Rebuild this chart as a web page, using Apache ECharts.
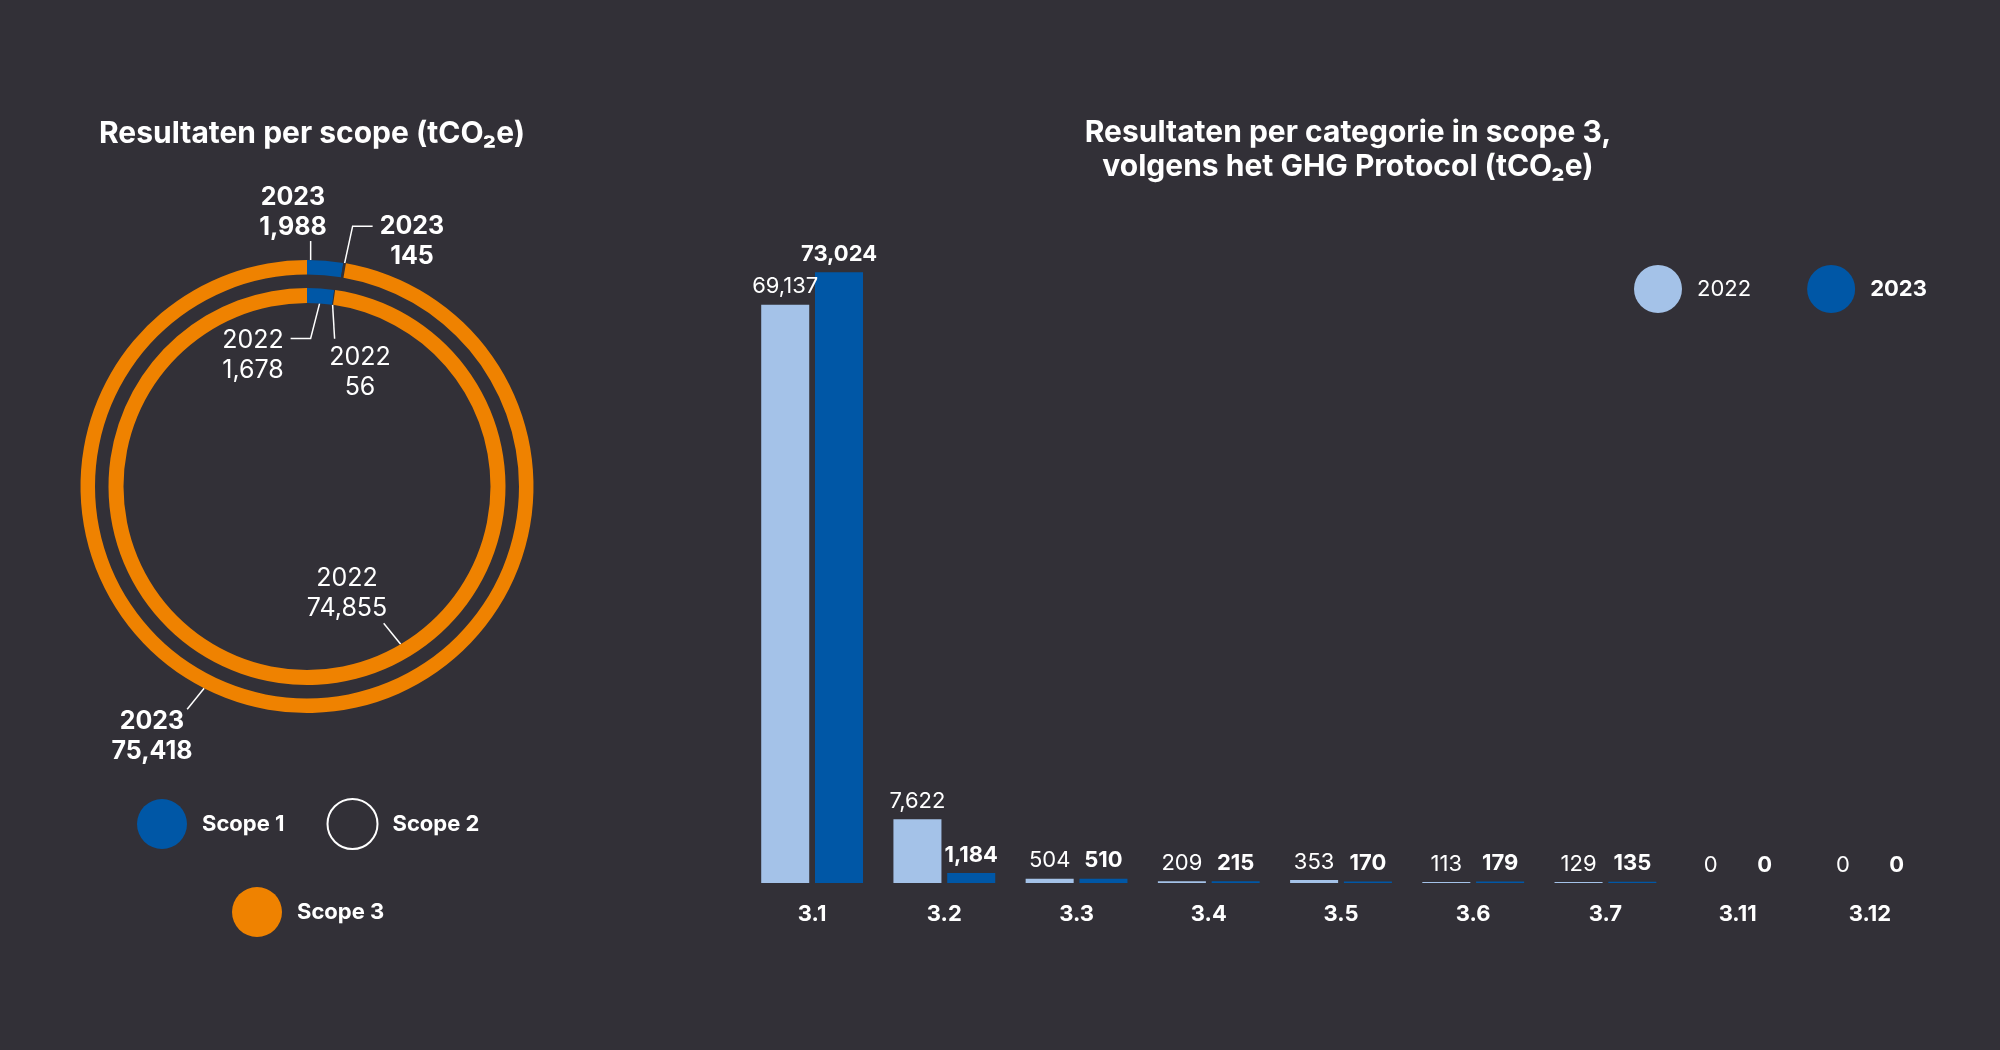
<!DOCTYPE html>
<html><head><meta charset="utf-8">
<script src="https://cdn.jsdelivr.net/npm/echarts@6/dist/echarts.min.js"></script>
<style>html,body{margin:0;padding:0;background:#323037}#c{width:2000px;height:1050px}</style>
</head><body><div id="c"></div>
<script>
// ---- data ----
const scopeNames = ['Scope 1', 'Scope 2', 'Scope 3'];
const scope2022 = [1678, 56, 74855];
const scope2023 = [1988, 145, 75418];
const categories = ['3.1', '3.2', '3.3', '3.4', '3.5', '3.6', '3.7', '3.11', '3.12'];
const cat2022 = [69137, 7622, 504, 209, 353, 113, 129, 0, 0];
const cat2023 = [73024, 1184, 510, 215, 170, 179, 135, 0, 0];
const years = ['2022', '2023'];

// ---- style ----
const BG = '#323037';
const BLUE = '#0057A6';
const LIGHT = '#A4C2E8';
const ORANGE = '#EF8200';
const FONT = 'Inter';
const CX = 307, CY = 486.5;
const OUTER = [212, 226.5], INNER = [183.5, 198.5];
const scopeColors = [BLUE, BG, ORANGE];

const fmt = v => v.toLocaleString('en-US');

function sliceAngle(vals, i, frac) {
  const total = vals.reduce((a, b) => a + b, 0);
  let before = 0;
  for (let k = 0; k < i; k++) before += vals[k];
  const start = 90 - before / total * 360;
  const end = start - vals[i] / total * 360;
  return start + (end - start) * frac;
}
function pt(r, a) {
  const t = a * Math.PI / 180;
  return [CX + r * Math.cos(t), CY - r * Math.sin(t)];
}

function layout2023(p) {
  const i = p.dataIndex;
  if (i === 0) {
    const p0 = pt(OUTER[1], sliceAngle(scope2023, 0, 0.1));
    return { x: 293, y: 212, align: 'center', verticalAlign: 'middle',
      labelLinePoints: [p0, [p0[0], p0[1] - 19]] };
  } else if (i === 1) {
    const p0 = pt(OUTER[1], sliceAngle(scope2023, 1, 0.5));
    return { x: 412, y: 241, align: 'center', verticalAlign: 'middle',
      labelLinePoints: [p0, [p0[0] + 8, p0[1] - 37], [p0[0] + 28, p0[1] - 37]] };
  } else {
    const p0 = pt(OUTER[1], 243);
    return { x: 152, y: 736, align: 'center', verticalAlign: 'middle',
      labelLinePoints: [p0, [p0[0] - 17, p0[1] + 21]] };
  }
}
function layout2022(p) {
  const i = p.dataIndex;
  if (i === 0) {
    const p0 = pt(INNER[0], sliceAngle(scope2022, 0, 0.5));
    return { x: 253, y: 355, align: 'center', verticalAlign: 'middle',
      labelLinePoints: [p0, [p0[0] - 9, p0[1] + 35], [p0[0] - 29, p0[1] + 35]] };
  } else if (i === 1) {
    const p0 = pt(INNER[0], sliceAngle(scope2022, 1, 0.5));
    return { x: 360, y: 372, align: 'center', verticalAlign: 'middle',
      labelLinePoints: [p0, [p0[0] + 2, p0[1] + 34]] };
  } else {
    const p0 = pt(INNER[0], -59.3);
    return { x: 347, y: 593, align: 'center', verticalAlign: 'middle',
      labelLinePoints: [p0, [p0[0] - 17, p0[1] - 21]] };
  }
}

function pieData(vals) {
  return vals.map((v, i) => ({ name: scopeNames[i], value: v, itemStyle: { color: scopeColors[i] } }));
}

const chart = echarts.init(document.getElementById('c'), null, { renderer: 'canvas' });

const pieLabel = (year, bold) => ({
  show: true, position: 'outside', color: '#fff',
  formatter: p => '{t|' + year + '}\n{t|' + fmt(p.value) + '}',
  rich: { t: { fontFamily: FONT, fontSize: 25, lineHeight: 30, color: '#fff', fontWeight: bold ? 'bold' : 'normal' } }
});

chart.setOption({
  backgroundColor: BG,
  animation: false,
  textStyle: { fontFamily: FONT },
  title: [
    { text: 'Resultaten per scope (tCO₂e)', left: 307, top: 114, textAlign: 'center',
      textStyle: { color: '#fff', fontFamily: FONT, fontWeight: 'bold', fontSize: 30 } },
    { text: 'Resultaten per categorie in scope 3,\nvolgens het GHG Protocol (tCO₂e)', left: 1343, top: 111, textAlign: 'center',
      textStyle: { color: '#fff', fontFamily: FONT, fontWeight: 'bold', fontSize: 30, lineHeight: 34 } }
  ],
  legend: [
    { data: [{ name: 'Scope 1' }, { name: 'Scope 2', itemStyle: { color: BG, borderColor: '#fff', borderWidth: 2 } }],
      left: 137, top: 798, padding: 0, icon: 'circle', itemWidth: 50, itemHeight: 50, itemGap: 42, selectedMode: false,
      textStyle: { color: '#fff', fontFamily: FONT, fontWeight: 'bold', fontSize: 22, padding: [0, 0, 0, 10] } },
    { data: [{ name: 'Scope 3' }],
      left: 232, top: 887, padding: 0, icon: 'circle', itemWidth: 50, itemHeight: 50, selectedMode: false,
      textStyle: { color: '#fff', fontFamily: FONT, fontWeight: 'bold', fontSize: 22, padding: [0, 0, 0, 10] } },
    { data: [{ name: '2022', textStyle: { fontWeight: 'normal' } }, { name: '2023', textStyle: { fontWeight: 'bold' } }],
      left: 1634, top: 265, padding: 0, icon: 'circle', itemWidth: 48, itemHeight: 48, itemGap: 56, selectedMode: false,
      textStyle: { color: '#fff', fontFamily: FONT, fontSize: 22, padding: [0, 0, 0, 10] } }
  ],
  grid: { left: 746, right: 64, top: 214, bottom: 167 },
  xAxis: {
    type: 'category', data: categories,
    axisLine: { show: false }, axisTick: { show: false },
    axisLabel: { color: '#fff', fontFamily: FONT, fontWeight: 'bold', fontSize: 22, margin: 20 }
  },
  yAxis: { type: 'value', min: 0, max: 80000, show: false, splitLine: { show: false } },
  series: [
    { type: 'pie', name: 'ring-2023', center: [CX, CY], radius: OUTER, startAngle: 90, clockwise: true,
      avoidLabelOverlap: false, silent: true, emphasis: { disabled: true },
      data: pieData(scope2023), label: pieLabel(years[1], true),
      labelLine: { show: true, lineStyle: { color: '#fff', width: 1.5 } },
      labelLayout: layout2023 },
    { type: 'pie', name: 'ring-2022', center: [CX, CY], radius: INNER, startAngle: 90, clockwise: true,
      avoidLabelOverlap: false, silent: true, emphasis: { disabled: true },
      data: pieData(scope2022), label: pieLabel(years[0], false),
      labelLine: { show: true, lineStyle: { color: '#fff', width: 1.5 } },
      labelLayout: layout2022 },
    { type: 'bar', name: years[0], data: cat2022, barCategoryGap: '23%', barGap: '12%',
      itemStyle: { color: LIGHT },
      label: { show: true, position: 'top', distance: 7, color: '#fff', fontFamily: FONT, fontSize: 22, fontWeight: 'normal', formatter: p => fmt(p.value) } },
    { type: 'bar', name: years[1], data: cat2023, barCategoryGap: '23%', barGap: '12%',
      itemStyle: { color: BLUE },
      label: { show: true, position: 'top', distance: 7, color: '#fff', fontFamily: FONT, fontSize: 22, fontWeight: 'bold', formatter: p => fmt(p.value) } }
  ]
});
</script>
</body></html>
